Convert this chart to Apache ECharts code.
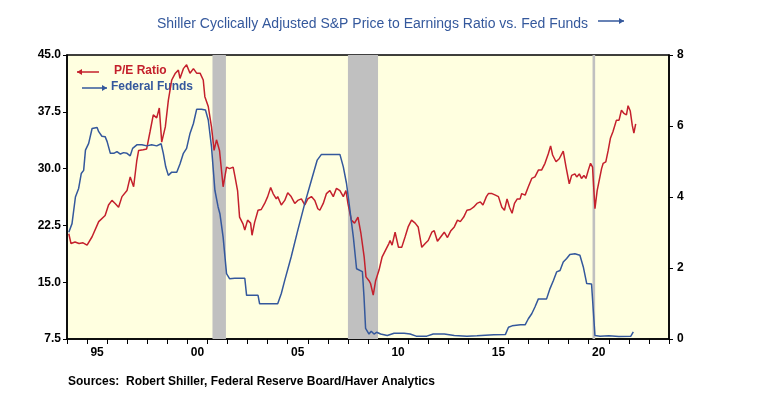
<!DOCTYPE html>
<html>
<head>
<meta charset="utf-8">
<script src="https://cdn.jsdelivr.net/npm/echarts@6/dist/echarts.min.js"></script>
<style>
  html, body { margin: 0; padding: 0; background: #fff; }
  #chart { width: 762px; height: 397px; }
</style>
</head>
<body>
<div id="chart"></div>
<script>
// Shiller CAPE (left axis), monthly readings as year fractions
const peYears = [1994.09, 1994.2, 1994.4, 1994.6, 1994.8, 1995.0, 1995.25, 1995.58, 1995.9, 1996.07, 1996.24, 1996.4, 1996.57, 1996.74, 1996.99,
  1997.15, 1997.32, 1997.48, 1997.57, 1997.8, 1997.97, 1998.14, 1998.3, 1998.47, 1998.6, 1998.72, 1998.9, 1999.05, 1999.22, 1999.4,
  1999.55, 1999.63, 1999.8, 1999.96, 2000.13, 2000.3, 2000.46, 2000.63, 2000.79, 2000.87, 2001.04, 2001.2, 2001.33, 2001.45, 2001.6,
  2001.78, 2001.95, 2002.1, 2002.28, 2002.36, 2002.5, 2002.6, 2002.77, 2002.86, 2003.0, 2003.15, 2003.22, 2003.35, 2003.52, 2003.68,
  2003.85, 2004.0, 2004.15, 2004.27, 2004.43, 2004.5, 2004.68, 2004.85, 2005.0, 2005.17, 2005.35, 2005.5, 2005.68, 2005.85, 2006.0,
  2006.18, 2006.35, 2006.5, 2006.6, 2006.77, 2006.93, 2007.1, 2007.27, 2007.43, 2007.6, 2007.77, 2007.9, 2008.0, 2008.17, 2008.33,
  2008.5, 2008.65, 2008.81, 2008.9, 2009.05, 2009.13, 2009.26, 2009.38, 2009.55, 2009.7, 2009.87, 2010.04, 2010.1, 2010.2, 2010.35,
  2010.52, 2010.68, 2010.85, 2011.0, 2011.17, 2011.35, 2011.5, 2011.68, 2011.85, 2012.0, 2012.18, 2012.3, 2012.46, 2012.63, 2012.8,
  2012.96, 2013.13, 2013.3, 2013.46, 2013.6, 2013.77, 2013.93, 2014.1, 2014.26, 2014.43, 2014.6, 2014.73, 2014.9, 2015.0, 2015.18,
  2015.35, 2015.5, 2015.67, 2015.8, 2015.93, 2016.05, 2016.18, 2016.3, 2016.44, 2016.58, 2016.66, 2016.83, 2016.99, 2017.16, 2017.32,
  2017.49, 2017.65, 2017.82, 2017.99, 2018.1, 2018.2, 2018.37, 2018.53, 2018.73, 2018.87, 2019.03, 2019.15, 2019.31, 2019.4, 2019.53,
  2019.64, 2019.76, 2019.86, 2019.98, 2020.09, 2020.19, 2020.31, 2020.42, 2020.52, 2020.64, 2020.72, 2020.85, 2020.97, 2021.08, 2021.21,
  2021.3, 2021.38, 2021.51, 2021.63, 2021.75, 2021.88, 2021.96, 2022.07, 2022.17, 2022.25, 2022.34]
const peValues = [21.4, 20.1, 20.3, 20.1, 20.2, 19.9, 21.0, 23.0, 23.8, 25.2, 25.8, 25.4, 24.9, 26.3, 27.1,
  28.9, 27.6, 31.1, 32.4, 32.5, 32.6, 34.9, 37.1, 36.7, 38.0, 33.5, 35.5, 39.0, 41.7, 42.6,
  43.0, 41.9, 43.2, 43.7, 42.6, 43.2, 42.6, 42.6, 41.7, 39.5, 38.2, 35.5, 32.4, 33.8, 32.4,
  27.6, 30.2, 30.0, 30.2, 29.1, 27.1, 23.6, 22.7, 21.9, 23.2, 22.8, 21.2, 22.9, 24.5, 24.6,
  25.4, 26.3, 27.5, 26.7, 26.0, 26.3, 25.2, 25.8, 26.8, 26.3, 25.4, 25.8, 26.0, 25.2, 26.0,
  26.3, 25.8, 24.7, 24.5, 25.4, 26.7, 27.1, 26.3, 27.4, 27.1, 26.3, 27.1, 25.4, 23.2, 22.8,
  23.6, 21.4, 18.3, 15.7, 15.2, 14.8, 13.3, 15.2, 16.6, 18.3, 19.2, 20.1, 20.5, 19.9, 21.6,
  19.6, 19.6, 21.0, 22.3, 23.2, 22.8, 22.3, 19.6, 20.1, 20.5, 21.6, 21.8, 20.4, 21.0, 21.6,
  20.9, 21.8, 22.3, 23.2, 23.0, 23.6, 24.5, 24.6, 24.9, 25.4, 25.6, 25.2, 26.3, 26.7, 26.7,
  26.5, 26.3, 24.9, 24.5, 26.0, 24.9, 24.1, 25.4, 26.0, 26.0, 26.7, 26.5, 27.6, 28.7, 28.9,
  29.8, 29.8, 30.7, 32.0, 33.0, 31.8, 30.9, 31.3, 32.3, 30.2, 28.0, 29.1, 29.3, 28.9, 29.3,
  28.7, 29.1, 28.7, 29.8, 30.7, 30.2, 24.7, 27.1, 28.4, 30.0, 30.7, 30.9, 32.4, 34.0, 34.9,
  35.1, 36.4, 36.4, 37.7, 37.3, 37.1, 38.3, 37.6, 35.7, 34.7, 35.9]

// Federal funds rate (right axis)
const ffYears = [1994.09, 1994.25, 1994.42, 1994.58, 1994.71, 1994.83, 1994.92, 1995.08, 1995.25, 1995.33, 1995.5, 1995.58, 1995.74, 1995.9, 1996.0,
  1996.16, 1996.33, 1996.49, 1996.66, 1996.82, 1996.99, 1997.15, 1997.27, 1997.48, 1997.73, 1997.98, 1998.22, 1998.47, 1998.69, 1998.8,
  1998.92, 1999.05, 1999.22, 1999.47, 1999.63, 1999.8, 1999.96, 2000.13, 2000.3, 2000.46, 2000.7, 2000.9, 2001.04, 2001.2, 2001.37,
  2001.53, 2001.62, 2001.78, 2001.95, 2002.1, 2002.36, 2002.86, 2002.95, 2003.52, 2003.6, 2004.5, 2004.68, 2004.85, 2005.17, 2005.5,
  2005.85, 2006.18, 2006.47, 2006.68, 2007.6, 2007.77, 2007.93, 2008.1, 2008.27, 2008.43, 2008.72, 2008.8, 2008.88, 2009.05, 2009.16,
  2009.3, 2009.43, 2009.63, 2009.96, 2010.3, 2010.8, 2011.1, 2011.4, 2011.93, 2012.25, 2012.8, 2013.3, 2013.93, 2014.43, 2015.27,
  2015.85, 2016.0, 2016.18, 2016.6, 2016.83, 2016.99, 2017.16, 2017.32, 2017.49, 2017.9, 2018.07, 2018.24, 2018.4, 2018.57, 2018.73,
  2018.9, 2019.06, 2019.31, 2019.56, 2019.73, 2019.9, 2020.14, 2020.31, 2020.36, 2020.56, 2021.0, 2021.5, 2022.1, 2022.22]
const ffValues = [3.01, 3.25, 4.0, 4.24, 4.66, 4.75, 5.32, 5.51, 5.93, 5.97, 5.96, 5.84, 5.71, 5.70, 5.56,
  5.23, 5.23, 5.28, 5.21, 5.25, 5.23, 5.16, 5.37, 5.47, 5.47, 5.44, 5.47, 5.44, 5.50, 5.23,
  4.85, 4.61, 4.70, 4.70, 4.93, 5.23, 5.37, 5.79, 6.07, 6.47, 6.47, 6.45, 6.17, 5.42, 4.19,
  3.72, 3.53, 2.87, 1.84, 1.70, 1.71, 1.71, 1.23, 1.23, 0.99, 0.99, 1.28, 1.65, 2.31, 3.06,
  3.82, 4.47, 5.04, 5.20, 5.20, 4.85, 4.38, 3.63, 2.87, 1.98, 1.90, 1.20, 0.30, 0.14, 0.22,
  0.14, 0.19, 0.14, 0.10, 0.16, 0.16, 0.14, 0.08, 0.08, 0.14, 0.14, 0.10, 0.08, 0.09, 0.12,
  0.13, 0.33, 0.37, 0.40, 0.40, 0.57, 0.71, 0.90, 1.13, 1.13, 1.42, 1.65, 1.89, 1.93, 2.17,
  2.27, 2.38, 2.40, 2.36, 2.03, 1.56, 1.55, 0.10, 0.05, 0.08, 0.09, 0.07, 0.08, 0.20]

// recession shading (start, end)
const recessions = [[2001.25, 2001.92], [2008.0, 2009.5], [2020.19, 2020.32]]

const leftTicks = [7.5, 15.0, 22.5, 30.0, 37.5, 45.0]
const rightTicks = [0, 2, 4, 6, 8]
const yearLabels = [1995, 2000, 2005, 2010, 2015, 2020]

const FONT = '"Liberation Sans Narrow", "Arial Narrow", "Liberation Sans", sans-serif'
const RED = '#C4202C'
const BLUE = '#34589C'

function arrow (x1, x2, y, color, pointLeft) {
  const tip = pointLeft ? x1 : x2
  const d = pointLeft ? 5 : -5
  return [
    { type: 'line', shape: { x1: x1, y1: y, x2: x2, y2: y }, style: { stroke: color, lineWidth: 1.5 } },
    { type: 'polygon', shape: { points: [[tip, y], [tip + d, y - 3], [tip + d, y + 3]] }, style: { fill: color } }
  ]
}

const chart = echarts.init(document.getElementById('chart'), null, { renderer: 'canvas' })

const option = {
  backgroundColor: '#fff',
  animation: false,
  title: {
    text: 'Shiller Cyclically Adjusted S&P Price to Earnings Ratio vs. Fed Funds',
    left: 152,
    top: 12,
    textStyle: { color: BLUE, fontSize: 14, fontWeight: 'normal', fontFamily: FONT }
  },
  grid: {
    left: 67, right: 93, top: 55, bottom: 58,
    show: true,
    backgroundColor: '#FFFFE0',
    borderColor: '#000',
    borderWidth: 1.5
  },
  xAxis: {
    type: 'value',
    min: 1994,
    max: 2024,
    interval: 1,
    axisLine: { show: true, lineStyle: { color: '#000', width: 1.5 } },
    axisTick: { show: true, length: 5, inside: false, lineStyle: { color: '#000' } },
    splitLine: { show: false },
    axisLabel: {
      customValues: yearLabels.map(y => y + 0.5),
      formatter: v => String(Math.floor(v)).slice(2),
      color: '#000',
      fontSize: 12,
      fontWeight: 'bold',
      fontFamily: FONT,
      margin: 8
    }
  },
  yAxis: [
    {
      type: 'value',
      position: 'left',
      min: 7.5,
      max: 45,
      interval: 7.5,
      axisLine: { show: true, lineStyle: { color: '#000', width: 1.5 } },
      axisTick: { show: true, length: 4, lineStyle: { color: '#000' } },
      splitLine: { show: false },
      axisLabel: {
        formatter: v => leftTicks.includes(v) ? v.toFixed(1) : '',
        color: '#000', fontSize: 12, fontWeight: 'bold', fontFamily: FONT, margin: 6
      }
    },
    {
      type: 'value',
      position: 'right',
      min: 0,
      max: 8,
      interval: 2,
      axisLine: { show: true, lineStyle: { color: '#000', width: 1.5 } },
      axisTick: { show: true, length: 4, lineStyle: { color: '#000' } },
      splitLine: { show: false },
      axisLabel: {
        formatter: v => rightTicks.includes(v) ? String(v) : '',
        color: '#000', fontSize: 12, fontWeight: 'bold', fontFamily: FONT, margin: 8
      }
    }
  ],
  series: [
    {
      name: 'Recessions',
      type: 'line',
      data: [],
      z: 1,
      markArea: {
        silent: true,
        itemStyle: { color: '#C0C0C0', opacity: 1 },
        data: recessions.map(r => [{ xAxis: r[0] }, { xAxis: r[1] }])
      }
    },
    {
      name: 'P/E Ratio',
      type: 'line',
      yAxisIndex: 0,
      showSymbol: false,
      z: 3,
      lineStyle: { color: RED, width: 1.5 },
      data: peYears.map((y, i) => [y, peValues[i]])
    },
    {
      name: 'Federal Funds',
      type: 'line',
      yAxisIndex: 1,
      showSymbol: false,
      z: 4,
      lineStyle: { color: BLUE, width: 1.5 },
      data: ffYears.map((y, i) => [y, ffValues[i]])
    }
  ],
  graphic: [
    ...arrow(598, 624, 21, BLUE, false),
    ...arrow(77, 99, 72, RED, true),
    { type: 'text', left: 114, top: 65, style: { text: 'P/E Ratio', fill: RED, font: 'bold 12px ' + FONT } },
    ...arrow(82, 107, 88, BLUE, false),
    { type: 'text', left: 111, top: 81, style: { text: 'Federal Funds', fill: BLUE, font: 'bold 12px ' + FONT } },
    { type: 'text', left: 68, top: 376, style: { text: 'Sources:  Robert Shiller, Federal Reserve Board/Haver Analytics', fill: '#000', font: 'bold 12px ' + FONT } }
  ]
}

chart.setOption(option)
</script>
</body>
</html>
